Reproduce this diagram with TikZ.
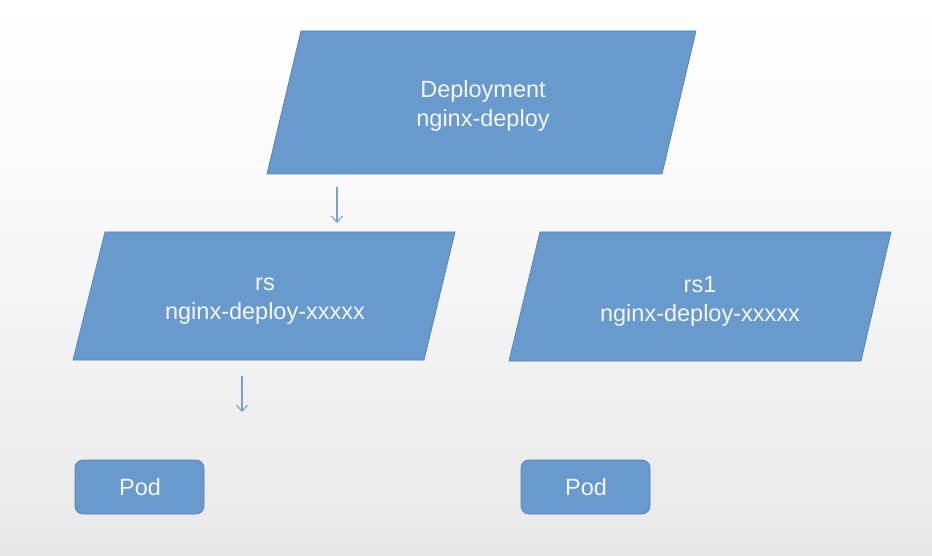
\documentclass[tikz,border=0pt]{standalone}
\usepackage{fontspec}
\setmainfont{Liberation Sans}
\usetikzlibrary{arrows.meta}
\definecolor{boxfill}{RGB}{104,154,206}
\definecolor{boxline}{RGB}{84,128,180}
\definecolor{arrowc}{RGB}{120,160,210}
\definecolor{txt}{RGB}{244,248,252}
\definecolor{bgbot}{RGB}{232,232,232}
\tikzset{
  shapebox/.style={fill=boxfill, draw=boxline, line width=0.7pt},
  label/.style={text=txt, align=center, font=\fontsize{23.5}{29}\selectfont, inner sep=0pt},
  flowarrow/.style={draw=arrowc, line width=1.1pt, -{Straight Barb[length=6pt,width=11pt,line width=1.1pt]}}
}
\begin{document}
\begin{tikzpicture}[x=1pt,y=-1pt]
\useasboundingbox (0,0) rectangle (932,556);
\shade[top color=white, bottom color=bgbot, middle color=white!60!bgbot] (0,0) rectangle (932,556);
% parallelograms
\draw[shapebox] (301,31) -- (696,31) -- (662,174) -- (267,174) -- cycle;
\draw[shapebox] (105,232) -- (455,232) -- (424,360) -- (73,360) -- cycle;
\draw[shapebox] (540,232) -- (891,232) -- (861,361) -- (509,361) -- cycle;
% pods
\draw[shapebox, rounded corners=8pt] (75,460) rectangle (204,514);
\draw[shapebox, rounded corners=8pt] (521,460) rectangle (650,514);
% labels
\node[label] (deploy) at (483,106) {Deployment\\nginx-deploy};
\node[label] (rs) at (265,301.5) {rs\\nginx-deploy-xxxxx};
\node[label] (rsone) at (700,301.5) {rs1\\nginx-deploy-xxxxx};
\node[label] (poda) at (140,487.5) {Pod};
\node[label] (podb) at (586,487.5) {Pod};
% arrows
\coordinate (a1s) at (337,187);
\coordinate (a1e) at (337,223);
\coordinate (a2s) at (242,376);
\coordinate (a2e) at (242,412);
\draw[flowarrow] (a1s) -- (a1e);
\draw[flowarrow] (a2s) -- (a2e);
\end{tikzpicture}
\end{document}
